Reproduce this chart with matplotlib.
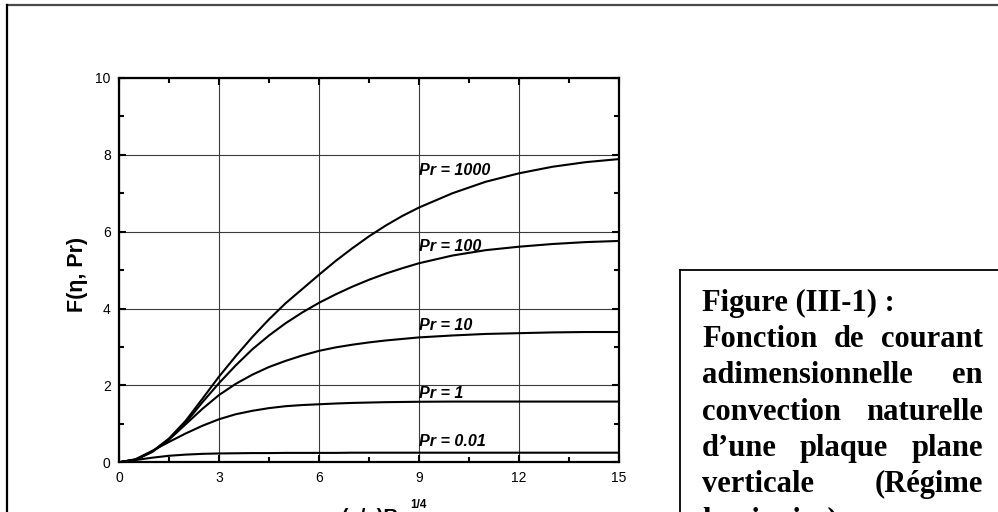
import matplotlib
matplotlib.use("Agg")
import matplotlib.pyplot as plt
from matplotlib.lines import Line2D
from matplotlib.ticker import MultipleLocator

# ---------------- data ----------------
eta = [0, 0.5, 1, 1.5, 2, 2.5, 3, 3.5, 4, 4.5, 5, 5.5, 6, 6.5, 7, 7.5, 8,
       8.5, 9, 10, 11, 12, 13, 14, 15]

F_pr1000 = [0, 0.07, 0.28, 0.62, 1.08, 1.65, 2.23, 2.76, 3.26, 3.72, 4.14,
            4.51, 4.88, 5.24, 5.57, 5.88, 6.16, 6.41, 6.63, 7.00, 7.30, 7.52,
            7.69, 7.81, 7.89]
F_pr100 = [0, 0.07, 0.28, 0.60, 1.03, 1.56, 2.06, 2.52, 2.94, 3.30, 3.62,
           3.90, 4.15, 4.37, 4.57, 4.75, 4.91, 5.05, 5.18, 5.38, 5.52, 5.61,
           5.68, 5.73, 5.76]
F_pr10 = [0, 0.07, 0.27, 0.59, 0.99, 1.39, 1.75, 2.04, 2.28, 2.48, 2.64,
          2.78, 2.90, 2.99, 3.06, 3.12, 3.17, 3.21, 3.25, 3.30, 3.34, 3.36,
          3.38, 3.39, 3.39]
F_pr1 = [0, 0.08, 0.30, 0.53, 0.75, 0.95, 1.12, 1.25, 1.34, 1.41, 1.46,
         1.49, 1.51, 1.53, 1.545, 1.555, 1.565, 1.57, 1.575, 1.58, 1.58,
         1.58, 1.58, 1.58, 1.58]
F_pr001 = [0, 0.06, 0.12, 0.17, 0.20, 0.22, 0.23, 0.235, 0.24, 0.24, 0.245,
           0.245, 0.245, 0.245, 0.25, 0.25, 0.25, 0.25, 0.25, 0.25, 0.25,
           0.25, 0.25, 0.25, 0.25]

series = [F_pr1000, F_pr100, F_pr10, F_pr1, F_pr001]
curve_labels = ["Pr = 1000", "Pr = 100", "Pr = 10", "Pr = 1", "Pr = 0.01"]
label_x = [9.0, 9.0, 9.0, 9.0, 9.0]
label_y = [7.59, 5.61, 3.57, 1.80, 0.54]

x_ticks = [0, 3, 6, 9, 12, 15]
y_ticks = [0, 2, 4, 6, 8, 10]

caption_lines = [
    "Figure (III-1) :",
    "Fonction de courant",
    "adimensionnelle en",
    "convection naturelle",
    "d\u2019une plaque plane",
    "verticale (Régime",
    "laminaire)",
]
caption_justify = [False, True, True, True, True, True, False]

# ---------------- figure ----------------
W, H = 998, 512
fig = plt.figure(figsize=(W / 100, H / 100), dpi=100)
fig.patch.set_facecolor("white")

def fx(px):
    return px / W

def fy(py):
    return 1 - py / H

ax_l, ax_r, ax_t, ax_b = 119, 619, 78, 462.3
ax = fig.add_axes([fx(ax_l), fy(ax_b), (ax_r - ax_l) / W, (ax_b - ax_t) / H])

for ys in series:
    ax.plot(eta, ys, color="black", lw=1.5, solid_capstyle="round",
            solid_joinstyle="round", zorder=3)

for txt, lx, ly in zip(curve_labels, label_x, label_y):
    ax.text(lx, ly, txt, family="Liberation Sans", fontsize=11.6,
            fontweight="bold", fontstyle="italic", ha="left", va="center",
            zorder=4)

ax.set_xlim(0, 15)
ax.set_ylim(0, 10)
ax.set_xticks(x_ticks)
ax.set_yticks(y_ticks)
ax.xaxis.set_minor_locator(MultipleLocator(1.5))
ax.yaxis.set_minor_locator(MultipleLocator(1))
ax.grid(True, which="major", color="#3a3a3a", lw=0.8, zorder=1)
ax.tick_params(which="both", direction="in", top=True, right=True,
               color="black", width=1.5)
ax.tick_params(which="major", length=5, pad=6, labelsize=10)
ax.tick_params(which="minor", length=3.5)
for lab in ax.get_xticklabels() + ax.get_yticklabels():
    lab.set_family("Liberation Sans")
for sp in ax.spines.values():
    sp.set_linewidth(1.6)
    sp.set_zorder(5)

# axis labels
fig.text(fx(77), fy(274), "F(\u03b7, Pr)", rotation=90, ha="center",
         va="center", family="Liberation Sans", fontweight="bold",
         fontsize=15.5)
fig.text(fx(312), fy(508), "\u03b7= (x/y)Ra", ha="left", va="top",
         family="Liberation Sans", fontweight="bold", fontsize=14.5)
fig.text(fx(410), fy(499), "1/4", ha="left", va="top",
         family="Liberation Sans", fontweight="bold", fontsize=8.5)

# outer frame lines
fig.add_artist(Line2D([fx(7), fx(998)], [fy(5), fy(5)], color="#4a4a4a",
                      lw=1.6, transform=fig.transFigure))
fig.add_artist(Line2D([fx(7), fx(7)], [fy(5), fy(512)], color="black",
                      lw=1.6, transform=fig.transFigure))
# caption box
fig.add_artist(Line2D([fx(680), fx(998)], [fy(270), fy(270)], color="black",
                      lw=1.3, transform=fig.transFigure))
fig.add_artist(Line2D([fx(680), fx(680)], [fy(270), fy(512)], color="black",
                      lw=1.3, transform=fig.transFigure))

# justified caption text
cap_left, cap_right = 702, 983
base0, lstep = 311, 36.2
fig.canvas.draw()
renderer = fig.canvas.get_renderer()
cap_font = dict(family="Liberation Serif", fontweight="bold", fontsize=22)
for i, (line, just) in enumerate(zip(caption_lines, caption_justify)):
    py = base0 + i * lstep
    if not just:
        fig.text(fx(cap_left), fy(py), line, ha="left", va="baseline",
                 **cap_font)
        continue
    words = line.split()
    objs = [fig.text(0, fy(py), w, ha="left", va="baseline", **cap_font)
            for w in words]
    widths = [o.get_window_extent(renderer).width for o in objs]
    gap = (cap_right - cap_left - sum(widths)) / (len(words) - 1)
    x = cap_left
    for o, w in zip(objs, widths):
        o.set_x(fx(x))
        x += w + gap

fig.savefig("out.png", dpi=100, facecolor="white")
